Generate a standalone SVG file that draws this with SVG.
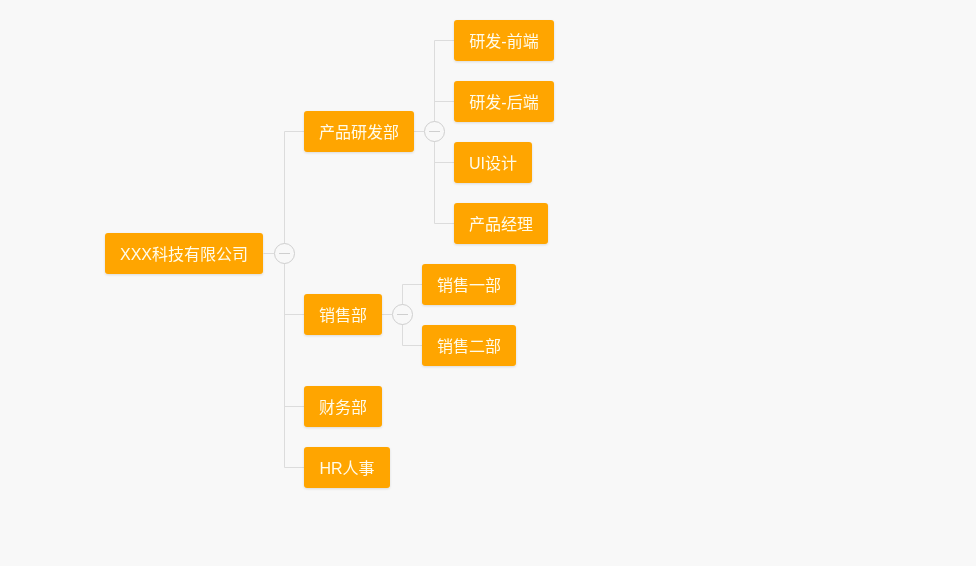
<svg xmlns="http://www.w3.org/2000/svg" width="976" height="566" viewBox="0 0 976 566">
<style>
.n rect{fill:#FFA500;rx:3px;ry:3px;}
.n text{fill:#fffbea;font-family:"Liberation Sans","Noto Sans CJK SC",sans-serif;font-size:16px;text-anchor:middle;dominant-baseline:central;}
.c{stroke:#dcdcdc;stroke-width:1;fill:none;}
.t circle{fill:#f8f8f8;stroke:#cfcfcf;stroke-width:1;}
.t line{stroke:#cfcfcf;stroke-width:1;}
</style>
<defs>
<filter id="sh" x="-10%" y="-10%" width="120%" height="140%">
<feDropShadow dx="0" dy="1" stdDeviation="1" flood-color="#000" flood-opacity="0.12"/>
</filter>
</defs>
<rect width="976" height="566" fill="#f8f8f8"/>
<g id="connectors">
<path class="c" d="M263.5 253.5H274M284.5 131.5V467.5M284.5 131.5H304M284.5 314.5H304M284.5 406.5H304M284.5 467.5H304"/>
<path class="c" d="M414 131.5H424M434.5 40.5V223.5M434.5 40.5H454M434.5 101.5H454M434.5 162.5H454M434.5 223.5H454"/>
<path class="c" d="M382 314.5H392M402.5 284.5V345.5M402.5 284.5H422M402.5 345.5H422"/>
</g>
<g id="toggles" class="t">
<g><circle cx="284.5" cy="253.5" r="10"/><line x1="279" y1="253.5" x2="290" y2="253.5"/></g>
<g><circle cx="434.5" cy="131.5" r="10"/><line x1="429" y1="131.5" x2="440" y2="131.5"/></g>
<g><circle cx="402.5" cy="314.5" r="10"/><line x1="397" y1="314.5" x2="408" y2="314.5"/></g>
</g>
<g id="root" class="n" filter="url(#sh)"><rect x="105" y="233" width="158" height="41"/><text x="184" y="254">XXX科技有限公司</text></g>
<g id="n-rd" class="n" filter="url(#sh)"><rect x="304" y="111" width="110" height="41"/><text x="359" y="132">产品研发部</text></g>
<g id="n-sales" class="n" filter="url(#sh)"><rect x="304" y="294" width="78" height="41"/><text x="343" y="315">销售部</text></g>
<g id="n-fin" class="n" filter="url(#sh)"><rect x="304" y="386" width="78" height="41"/><text x="343" y="407">财务部</text></g>
<g id="n-hr" class="n" filter="url(#sh)"><rect x="304" y="447" width="86" height="41"/><text x="347" y="468">HR人事</text></g>
<g id="n-fe" class="n" filter="url(#sh)"><rect x="454" y="20" width="100" height="41"/><text x="504" y="41">研发-前端</text></g>
<g id="n-be" class="n" filter="url(#sh)"><rect x="454" y="81" width="100" height="41"/><text x="504" y="102">研发-后端</text></g>
<g id="n-ui" class="n" filter="url(#sh)"><rect x="454" y="142" width="78" height="41"/><text x="493" y="163">UI设计</text></g>
<g id="n-pm" class="n" filter="url(#sh)"><rect x="454" y="203" width="94" height="41"/><text x="501" y="224">产品经理</text></g>
<g id="n-s1" class="n" filter="url(#sh)"><rect x="422" y="264" width="94" height="41"/><text x="469" y="285">销售一部</text></g>
<g id="n-s2" class="n" filter="url(#sh)"><rect x="422" y="325" width="94" height="41"/><text x="469" y="346">销售二部</text></g>
</svg>
